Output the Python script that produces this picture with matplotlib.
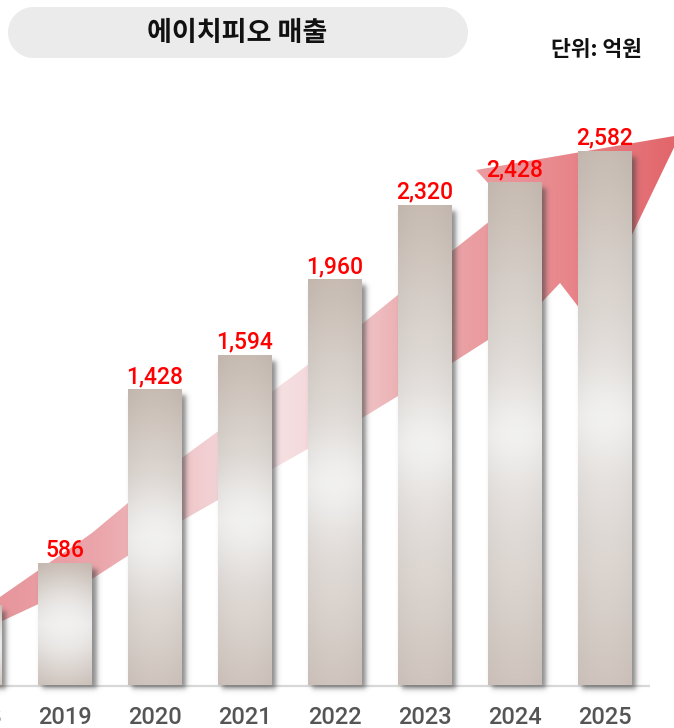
import numpy as np
import matplotlib
matplotlib.use('Agg')
import matplotlib.pyplot as plt
from matplotlib.patches import Polygon

# ---------------- data ----------------
years = ['2018', '2019', '2020', '2021', '2022', '2023', '2024', '2025']
sales = [386, 586, 1428, 1594, 1960, 2320, 2428, 2582]
value_labels = [f'{v:,}' for v in sales]
title = '에이치피오 매출'
unit_label = '단위: 억원'

# ---------------- layout ----------------
W, H = 674, 728
fig = plt.figure(figsize=(W / 100, H / 100), dpi=100)
ax = fig.add_axes([0, 0, 1, 1])
ax.axis('off')

XL = (25 / 90, (W + 25) / 90)
BASE_PX = 685.5
SY = 0.2068  # px per unit
YL = (-(H - BASE_PX) / SY, BASE_PX / SY)
SX = 90.0    # px per category
BAR_W = 0.6

def px_to_frac(pts):
    return [(x / W, 1 - y / H) for x, y in pts]

# ---------------- arrow (decoration) ----------------
upper = [(-10, 605), (0, 597), (92, 533), (183, 457), (273, 391), (362, 324), (452, 251), (509, 206)]
head = [(476, 170), (680, 135), (590, 322)]
lower = [(560, 283), (542, 302), (488, 340), (452, 363), (362, 418), (183, 520), (92, 579), (0, 622), (-10, 627)]
arrow_pts = upper + head + lower
arrow_patch = Polygon(px_to_frac(arrow_pts), closed=True, transform=ax.transAxes)

stops_x = [0, 100, 200, 270, 330, 400, 480, 560, 674]
stops_c = np.array([(231, 150, 156), (235, 166, 171), (241, 205, 208), (246, 226, 228),
                    (243, 212, 215), (236, 176, 179), (234, 156, 160), (232, 136, 141),
                    (226, 102, 107)]) / 255.0
xs = np.arange(W)
grad = np.stack([np.interp(xs, stops_x, stops_c[:, k]) for k in range(3)], axis=-1)[None, :, :]
im = ax.imshow(grad, extent=(XL[0], XL[1], YL[0], YL[1]), aspect='auto', zorder=1,
               interpolation='bilinear')
im.set_clip_path(arrow_patch)

# ---------------- baseline ----------------
ax.plot([XL[0], XL[0] + 650 / SX], [0, 0], color='#d8d8d8', lw=1.6, zorder=1.5,
        solid_capstyle='butt')

# ---------------- bars ----------------
def smooth(z, s):
    return 1 / (1 + np.exp(-1.7 * z / s))

top_c = np.array([199, 187, 178]) / 255
bot_c = np.array([207, 196, 189]) / 255
mid_c = np.array([236, 234, 232]) / 255
glow_c = np.array([243, 243, 243]) / 255

for i, v in enumerate(sales):
    hpx = v * SY
    wpx = BAR_W * SX
    # shadow
    pad = 10
    ox, oy = 4, 5
    sw = int(wpx + 2 * pad + ox)
    sh = int(hpx + 2 * pad + oy)
    gx = np.arange(sw) + 0.5 - pad
    gy = np.arange(sh) + 0.5 - pad
    GX, GY = np.meshgrid(gx, gy)
    sig = 2.5
    a = (smooth(GX - ox, sig) * smooth(wpx + ox - GX, sig) *
         smooth(GY - oy, sig) * smooth(hpx + 3 - GY, sig)) * 0.62
    simg = np.zeros((sh, sw, 4))
    simg[..., :3] = 0.27
    simg[..., 3] = a
    left = i - BAR_W / 2
    ax.imshow(simg, extent=(left - pad / SX, left + (sw - pad) / SX,
                            v - (sh - pad) / SY, v + pad / SY),
              aspect='auto', zorder=2, interpolation='bilinear')
    # bar gradient
    bw, bh = max(int(round(wpx)), 2), max(int(round(hpx)), 2)
    u = (np.arange(bw) + 0.5) - bw / 2
    yy = (np.arange(bh) + 0.5) - bh / 2
    U, Y = np.meshgrid(u, yy)
    f = np.clip(np.abs(Y) / (bh / 2), 0, 1) ** 1.0
    edge = np.where(Y[..., None] < 0, top_c, bot_c)
    col = mid_c + (edge - mid_c) * f[..., None]
    hx = np.clip(np.abs(U) / (bw / 2), 0, 1) ** 2
    col = col * (1 - 0.03 * hx[..., None])
    g = np.exp(-(U ** 2 + Y ** 2) / (2 * 26 ** 2))
    col = col + (glow_c - col) * (0.75 * g)[..., None]
    ax.imshow(np.clip(col, 0, 1), extent=(left, left + BAR_W, 0, v), aspect='auto',
              zorder=3, interpolation='bilinear')

# value labels (only those whose bar centre lies inside the view)
for i, (v, lab) in enumerate(zip(sales, value_labels)):
    if not (XL[0] <= i <= XL[1]):
        continue
    ax.annotate(lab, (i, v), xytext=(0, 5.2), textcoords='offset points',
                ha='center', va='baseline', color='#ff0000', fontsize=16.5,
                fontweight='medium', family=['Roboto', 'DejaVu Sans'], zorder=5)

# year labels
for i, y in enumerate(years):
    ax.text(i, 3.5 / H, y, transform=ax.get_xaxis_transform(), ha='center', va='baseline',
            color='#555555', fontsize=17, fontweight='medium',
            family=['Roboto', 'DejaVu Sans'], zorder=5)

# ---------------- title pill ----------------
x0, x1, yt, yb = 8, 468, 7, 58
r = (yb - yt) / 2
cy = (yt + yb) / 2
th_r = np.linspace(-np.pi / 2, np.pi / 2, 40)
right_arc = [(x1 - r + r * np.cos(t), cy + r * np.sin(t)) for t in th_r]
left_arc = [(x0 + r - r * np.cos(t), cy - r * np.sin(t)) for t in th_r]
pill = Polygon(px_to_frac(right_arc + left_arc), closed=True, transform=fig.transFigure,
               facecolor='#ebebeb', edgecolor='none', zorder=0)
fig.patches.append(pill)
fig.text(237 / W, 1 - 33 / H, title, ha='center', va='center', fontsize=19.5,
         fontweight='bold', family=['Noto Sans CJK KR', 'DejaVu Sans'], color='#111111')
fig.text(596 / W, 1 - 50 / H, unit_label, ha='center', va='center', fontsize=15.5,
         fontweight='bold', family=['Noto Sans CJK KR', 'DejaVu Sans'], color='#111111')

ax.set_xlim(*XL)
ax.set_ylim(*YL)
fig.savefig('out.png', dpi=100)
